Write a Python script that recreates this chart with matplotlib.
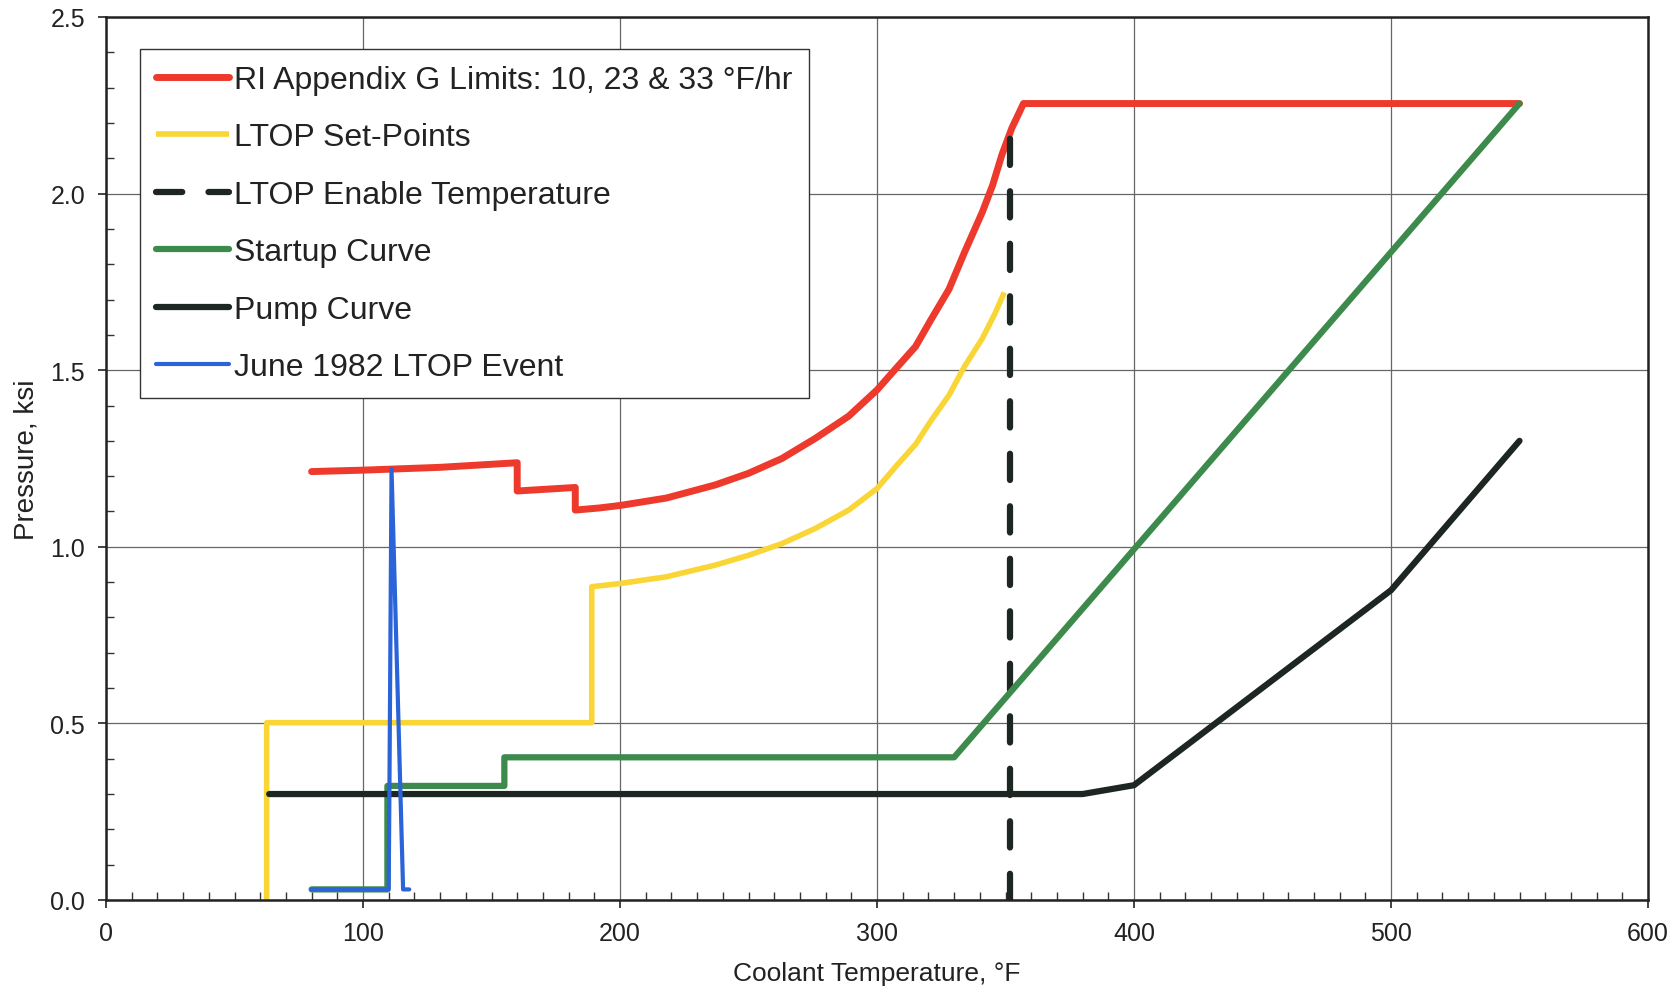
import matplotlib.pyplot as plt
from matplotlib.ticker import MultipleLocator

plt.rcParams['font.family'] = ['Liberation Sans', 'DejaVu Sans']

# Data (temperature in F, pressure in ksi)
red_t = [80, 100, 130, 160, 160, 182.6, 182.6, 192, 200, 218, 237, 250, 263, 276, 289, 300,
         308, 315, 321, 328, 334, 341, 345, 348.6, 352.5, 357, 550]
red_p = [1.213, 1.217, 1.225, 1.238, 1.158, 1.168, 1.104, 1.110, 1.117, 1.138, 1.175, 1.208, 1.25, 1.307, 1.37, 1.444,
         1.51, 1.567, 1.643, 1.729, 1.833, 1.948, 2.024, 2.11, 2.186, 2.255, 2.255]

ltop_t = [62.5, 62.5, 189, 189, 200, 218, 237, 250, 263, 276, 289, 300, 308, 315, 321, 328, 334, 341, 346, 349.5]
ltop_p = [0.0, 0.502, 0.502, 0.887, 0.896, 0.915, 0.948, 0.976, 1.009, 1.052, 1.104, 1.165, 1.233, 1.29, 1.357,
          1.429, 1.51, 1.59, 1.662, 1.72]

enable_t = [351.6, 351.6]
enable_p = [0.0, 2.19]

startup_t = [80, 109.5, 109.5, 155, 155, 330, 550]
startup_p = [0.03, 0.03, 0.323, 0.323, 0.404, 0.404, 2.255]

pump_t = [63.5, 380, 400, 500, 550]
pump_p = [0.30, 0.30, 0.325, 0.877, 1.30]

event_t = [80, 110, 110.3, 111.1, 115.6, 118]
event_p = [0.03, 0.03, 0.33, 1.22, 0.03, 0.03]

labels = ['RI Appendix G Limits: 10, 23 & 33 \u00b0F/hr', 'LTOP Set-Points',
          'LTOP Enable Temperature', 'Startup Curve', 'Pump Curve', 'June 1982 LTOP Event']

fig = plt.figure(figsize=(16.81, 9.87), dpi=100)
ax = fig.add_axes([106 / 1681, 86 / 987, 1542 / 1681, 883 / 987])

ax.plot(red_t, red_p, color='#ED3A2C', lw=5.0, solid_capstyle='round', solid_joinstyle='round', label=labels[0])
ax.plot(ltop_t, ltop_p, color='#F9D535', lw=4.0, solid_capstyle='butt', solid_joinstyle='round', label=labels[1])
ax.plot(enable_t, enable_p, color='#1E2622', lw=4.5, dashes=(4.2, 4.2), dash_capstyle='round', label=labels[2])
ax.plot(startup_t, startup_p, color='#3D8A4D', lw=4.5, solid_capstyle='round', label=labels[3])
ax.plot(pump_t, pump_p, color='#1E2622', lw=4.5, solid_capstyle='round', label=labels[4])
ax.plot(event_t, event_p, color='#2B63D9', lw=3.0, solid_capstyle='round', label=labels[5])

ax.set_xlim(0, 600)
ax.set_ylim(0, 2.5)
ax.xaxis.set_major_locator(MultipleLocator(100))
ax.xaxis.set_minor_locator(MultipleLocator(10))
ax.yaxis.set_major_locator(MultipleLocator(0.5))
ax.yaxis.set_minor_locator(MultipleLocator(0.1))
ax.yaxis.set_major_formatter(plt.FormatStrFormatter('%.1f'))

ax.grid(True, which='major', color='#666666', lw=0.9)
ax.set_axisbelow(True)
ax.tick_params(which='major', direction='out', length=6, width=1.2, labelsize=18, colors='#222222', pad=9)
ax.tick_params(which='minor', direction='in', length=6, width=1.0, color='#333333')
for s in ax.spines.values():
    s.set_color('#222222')
    s.set_linewidth(1.8)

ax.set_xlabel('Coolant Temperature, \u00b0F', fontsize=19, color='#222222', labelpad=12)
ax.set_ylabel('Pressure, ksi', fontsize=20, color='#222222', labelpad=8)

leg = ax.legend(loc='upper left', bbox_to_anchor=(0.022, 0.9638), borderaxespad=0,
                fontsize=23, fancybox=False, framealpha=1, edgecolor='#333333',
                handlelength=2.3, handletextpad=0.15, labelspacing=0.86,
                borderpad=0.5)
leg.get_frame().set_linewidth(1.0)
for t in leg.get_texts():
    t.set_color('#222222')

fig.savefig('out.png', dpi=100)
